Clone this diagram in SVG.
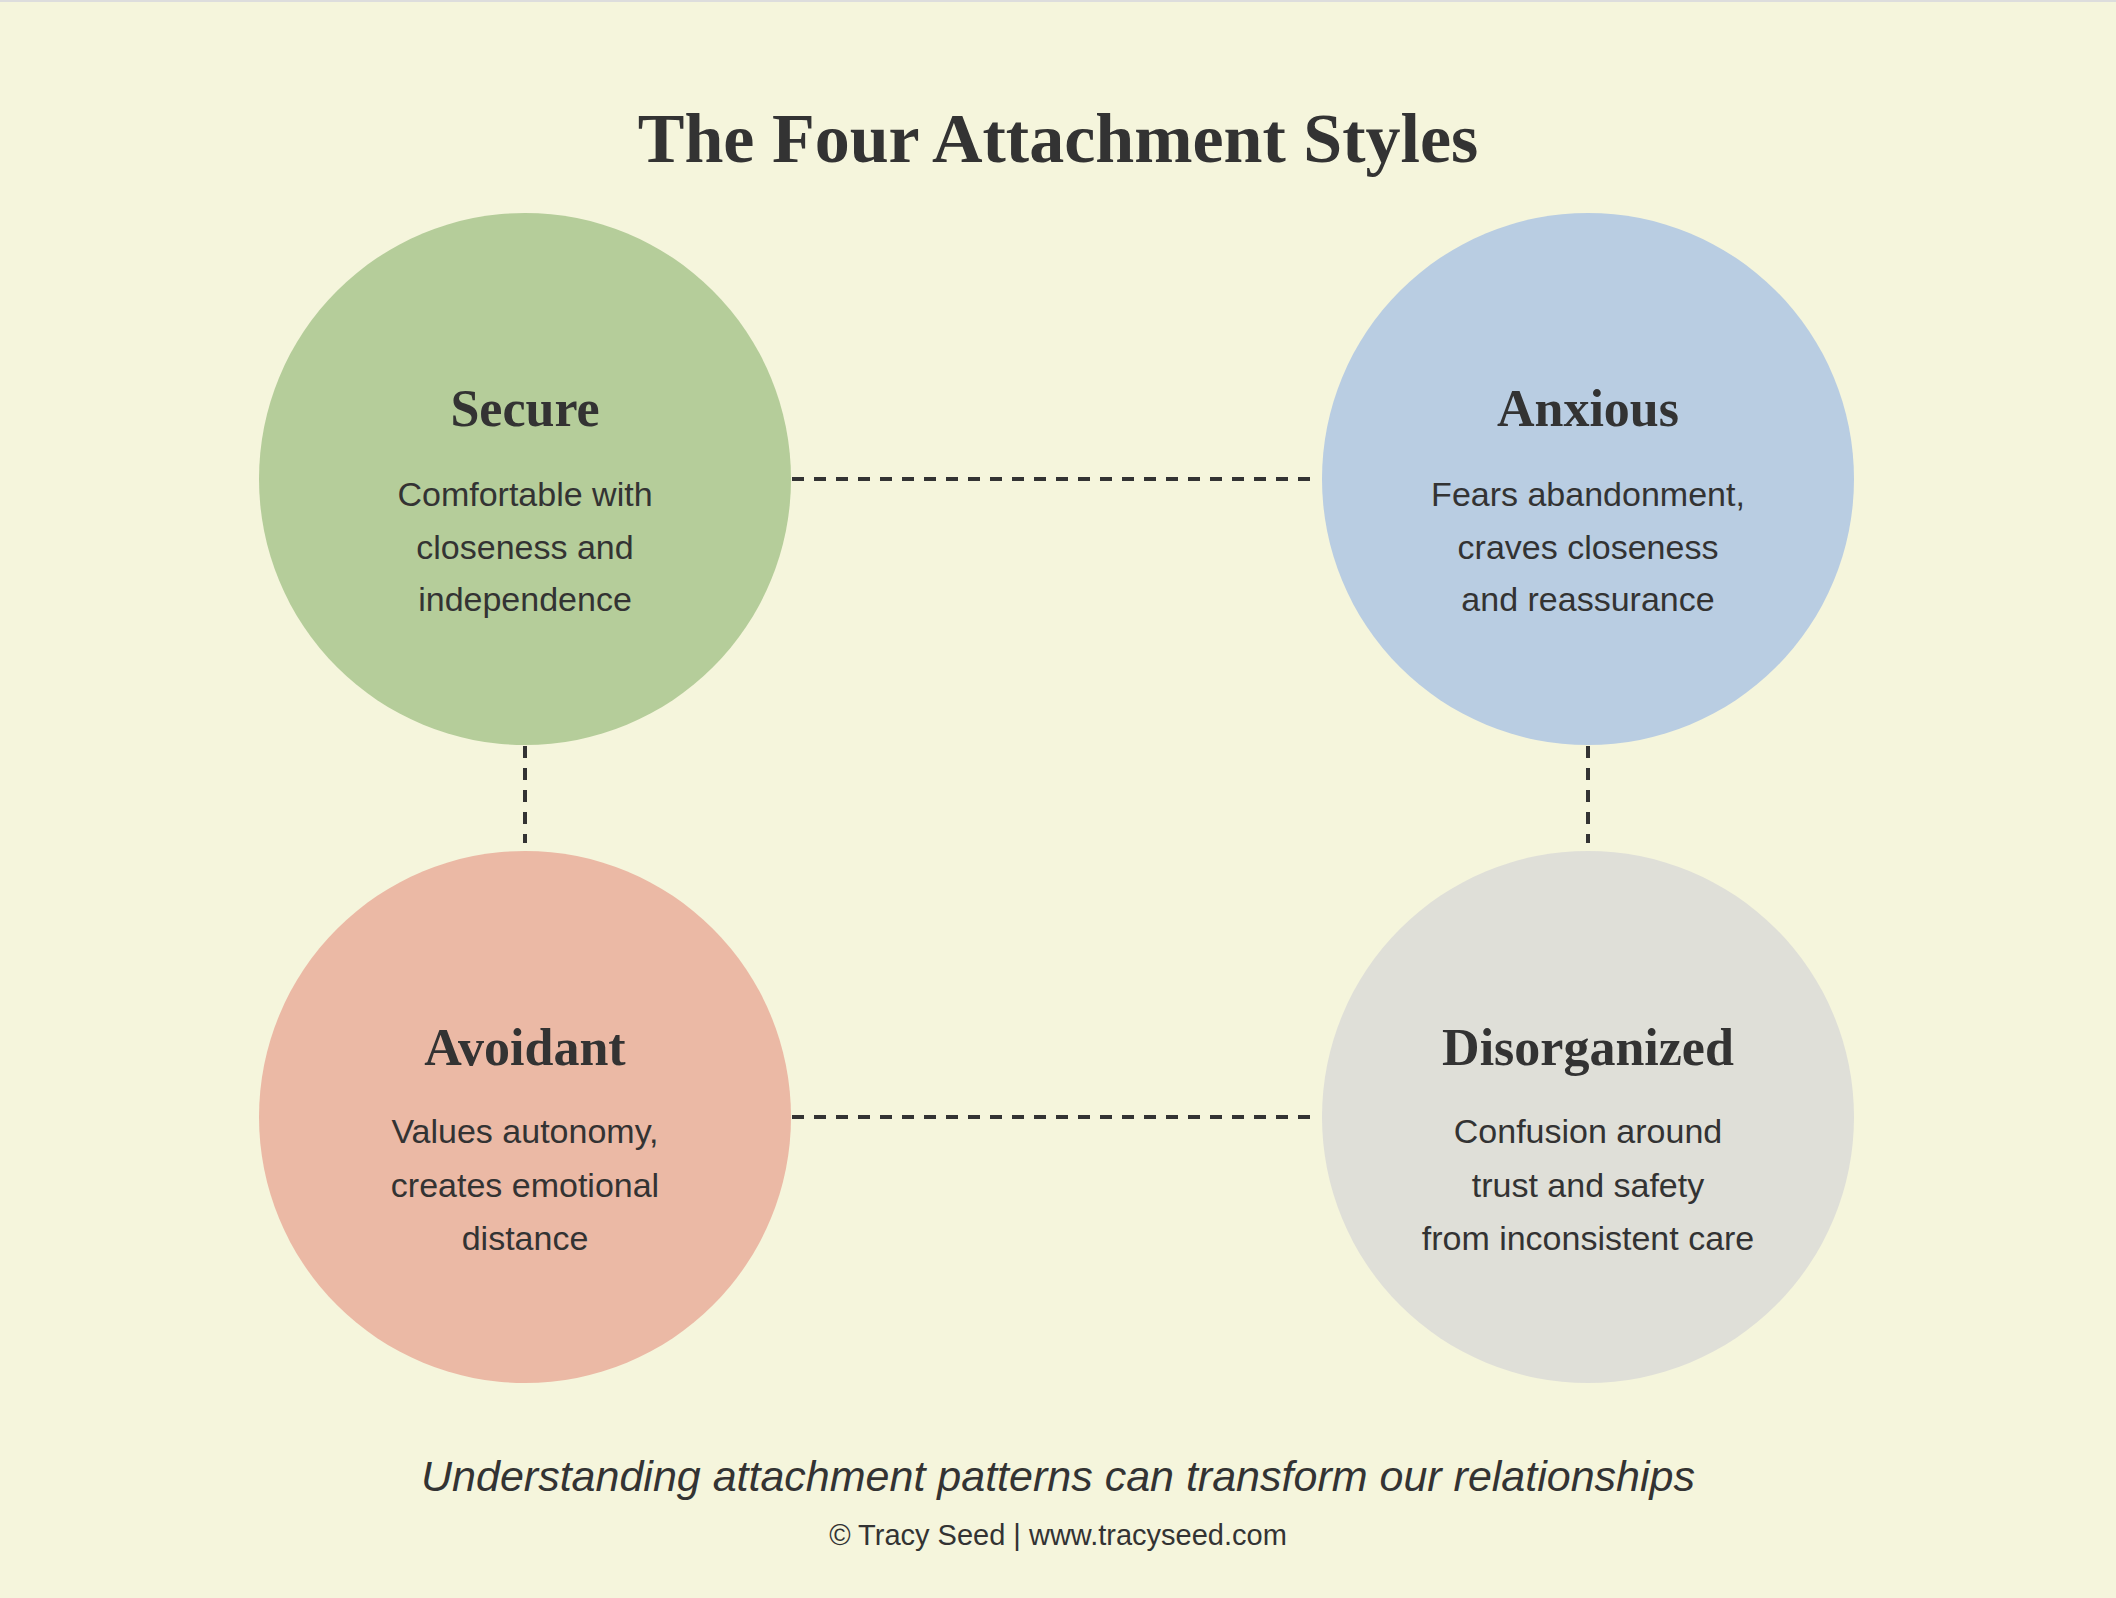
<svg xmlns="http://www.w3.org/2000/svg" width="2116" height="1598" viewBox="0 0 2116 1598">
<style>
.h{font-family:"Liberation Serif",serif;font-weight:bold;fill:#333;text-anchor:middle}
.b{font-family:"Liberation Sans",Arial,sans-serif;fill:#333;text-anchor:middle;font-size:34px}
.c{stroke:#333;stroke-width:4;stroke-dasharray:12 10;fill:none}
</style>
<rect width="2116" height="1598" fill="#f5f5dc"/>
<line x1="0" y1="1" x2="2116" y2="1" stroke="#ddd" stroke-width="2"/>
<text class="h" x="1058" y="162" font-size="70">The Four Attachment Styles</text>
<g id="connectors">
<line class="c" x1="792" y1="479" x2="1316" y2="479"/>
<line class="c" x1="792" y1="1117" x2="1316" y2="1117"/>
<line class="c" x1="525" y1="746" x2="525" y2="843"/>
<line class="c" x1="1588" y1="746" x2="1588" y2="843"/>
</g>
<g id="secure">
<circle cx="525" cy="479" r="266" fill="#b5cd9a"/>
<text class="h" x="525" y="426" font-size="52">Secure</text>
<text class="b" x="525" y="506">Comfortable with</text>
<text class="b" x="525" y="559">closeness and</text>
<text class="b" x="525" y="611">independence</text>
</g>
<g id="anxious">
<circle cx="1588" cy="479" r="266" fill="#b9cde2"/>
<text class="h" x="1588" y="426" font-size="52">Anxious</text>
<text class="b" x="1588" y="506">Fears abandonment,</text>
<text class="b" x="1588" y="559">craves closeness</text>
<text class="b" x="1588" y="611">and reassurance</text>
</g>
<g id="avoidant">
<circle cx="525" cy="1117" r="266" fill="#ebb9a5"/>
<text class="h" x="525" y="1065" font-size="52">Avoidant</text>
<text class="b" x="525" y="1143">Values autonomy,</text>
<text class="b" x="525" y="1197">creates emotional</text>
<text class="b" x="525" y="1250">distance</text>
</g>
<g id="disorganized">
<circle cx="1588" cy="1117" r="266" fill="#dfdfd8"/>
<text class="h" x="1588" y="1065" font-size="52">Disorganized</text>
<text class="b" x="1588" y="1143">Confusion around</text>
<text class="b" x="1588" y="1197">trust and safety</text>
<text class="b" x="1588" y="1250">from inconsistent care</text>
</g>
<text class="b" x="1058" y="1491" font-size="43" font-style="italic" style="font-size:43px">Understanding attachment patterns can transform our relationships</text>
<text class="b" x="1058" y="1545" style="font-size:29px">© Tracy Seed | www.tracyseed.com</text>
</svg>
